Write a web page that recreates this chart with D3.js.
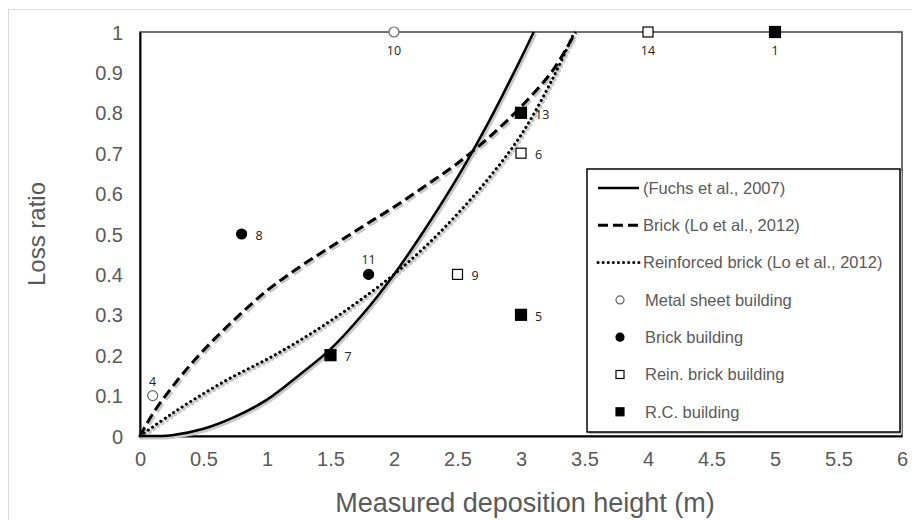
<!DOCTYPE html>
<html>
<head>
<meta charset="utf-8">
<script src="https://cdn.jsdelivr.net/npm/d3@7"></script>
<style>
    html, body { margin: 0; padding: 0; background: #fff; }
    svg { display: block; font-family: "Liberation Sans", Arial, sans-serif; }
</style>
</head>
<body>
<div id="chart"></div>
<script>
// curve data
const fuchsX = [0, 0.25, 0.5, 0.75, 1.0, 1.25, 1.5, 1.75, 2.0, 2.25, 2.5, 2.75, 3.0, 3.1];
const fuchsY = [0, 0.002, 0.018, 0.048, 0.09, 0.15, 0.215, 0.30, 0.40, 0.515, 0.64, 0.78, 0.935, 1.0];

const brickX = [0, 0.1, 0.3, 0.5, 0.75, 1.0, 1.25, 1.5, 1.75, 2.0, 2.25, 2.5, 2.75, 3.0, 3.25, 3.43];
const brickY = [0, 0.055, 0.14, 0.212, 0.29, 0.36, 0.417, 0.468, 0.518, 0.567, 0.62, 0.675, 0.74, 0.815, 0.905, 1.0];

const reinX = [0, 0.25, 0.5, 0.75, 1.0, 1.25, 1.5, 1.75, 2.0, 2.25, 2.5, 2.75, 3.0, 3.25, 3.42];
const reinY = [0, 0.055, 0.105, 0.15, 0.19, 0.235, 0.285, 0.34, 0.40, 0.47, 0.55, 0.64, 0.745, 0.885, 1.0];

// observed buildings: [id, depth, loss]
const metalSheet = [[4, 0.1, 0.1], [10, 2.0, 1.0]];
const brickBldg = [[8, 0.8, 0.5], [11, 1.8, 0.4]];
const reinBldg = [[9, 2.5, 0.4], [6, 3.0, 0.7], [14, 4.0, 1.0]];
const rcBldg = [[7, 1.5, 0.2], [5, 3.0, 0.3], [13, 3.0, 0.8], [1, 5.0, 1.0]];

const xTicks = [0, 0.5, 1, 1.5, 2, 2.5, 3, 3.5, 4, 4.5, 5, 5.5, 6];
const yTicks = [0, 0.1, 0.2, 0.3, 0.4, 0.5, 0.6, 0.7, 0.8, 0.9, 1];

const legendLabels = [
    '(Fuchs et al., 2007)',
    'Brick (Lo et al., 2012)',
    'Reinforced brick (Lo et al., 2012)',
    'Metal sheet building',
    'Brick building',
    'Rein. brick building',
    'R.C. building'
];

// where the little id label sits relative to its marker
const labelSide = { 4: 'above', 10: 'below', 14: 'below', 1: 'below', 11: 'above' };

const width = 912, height = 520;
const margin = { top: 32, right: 10, bottom: 84, left: 140 };
const w = 902 - margin.left;
const h = 436 - margin.top;

const svg = d3.select('#chart').append('svg')
    .attr('width', width)
    .attr('height', height);

svg.append('rect')
    .attr('x', 8.5).attr('y', 9.5)
    .attr('width', 920).attr('height', 530)
    .attr('fill', 'none')
    .attr('stroke', '#d9d9d9');

const g = svg.append('g').attr('transform', `translate(${margin.left},${margin.top})`);

const x = d3.scaleLinear().domain([0, 6]).range([0, w]);
const y = d3.scaleLinear().domain([0, 1]).range([h, 0]);

g.append('rect')
    .attr('width', w).attr('height', h)
    .attr('fill', 'none')
    .attr('stroke', '#404040')
    .attr('stroke-width', 1.5);

const xAxis = g.append('g')
    .attr('transform', `translate(0,${h})`)
    .call(d3.axisBottom(x).tickValues(xTicks).tickSize(0).tickPadding(16).tickFormat(d3.format('')));
const yAxis = g.append('g')
    .call(d3.axisLeft(y).tickValues(yTicks).tickSize(0).tickPadding(17).tickFormat(d3.format('')));

[xAxis, yAxis].forEach(ax => {
    ax.select('.domain').attr('stroke', '#000').attr('stroke-width', 2);
    ax.selectAll('text')
        .attr('fill', '#595959')
        .style('font-size', '20px')
        .style('font-family', '"Liberation Sans", Arial, sans-serif');
});
yAxis.selectAll('text').attr('dy', '0.35em');

svg.append('text')
    .attr('x', 525).attr('y', 512)
    .attr('text-anchor', 'middle')
    .attr('fill', '#595959')
    .style('font-size', '27px')
    .text('Measured deposition height (m)');

svg.append('text')
    .attr('transform', `translate(45,${margin.top + h / 2}) rotate(-90)`)
    .attr('text-anchor', 'middle')
    .attr('fill', '#595959')
    .style('font-size', '24px')
    .text('Loss ratio');

// curves
const curveStyles = [
    { xs: fuchsX, ys: fuchsY, width: 2.5, dash: null, cap: 'butt' },
    { xs: brickX, ys: brickY, width: 3, dash: '10,5', cap: 'butt' },
    { xs: reinX, ys: reinY, width: 3, dash: '0.1,5', cap: 'round' }
];

const line = d3.line()
    .x(d => x(d[0]))
    .y(d => y(d[1]))
    .curve(d3.curveCatmullRom.alpha(0.5));

const plot = g.append('g');
curveStyles.forEach(c => {
    const pts = c.xs.map((v, i) => [v, c.ys[i]]);
    plot.append('path')
        .attr('d', line(pts))
        .attr('transform', 'translate(1.5,1.5)')
        .attr('fill', 'none')
        .attr('stroke', '#c8c8c8')
        .attr('stroke-width', c.width + 1.5)
        .attr('stroke-dasharray', c.dash)
        .attr('stroke-linecap', c.cap);
});
curveStyles.forEach(c => {
    const pts = c.xs.map((v, i) => [v, c.ys[i]]);
    plot.append('path')
        .attr('d', line(pts))
        .attr('fill', 'none')
        .attr('stroke', '#000')
        .attr('stroke-width', c.width)
        .attr('stroke-dasharray', c.dash)
        .attr('stroke-linecap', c.cap);
});

// markers
function drawMarker(sel, kind) {
    if (kind === 'circle-open' || kind === 'circle-fill') {
        sel.append('circle')
            .attr('r', 5)
            .attr('fill', kind === 'circle-fill' ? '#000' : '#fff')
            .attr('stroke', kind === 'circle-fill' ? '#000' : '#666')
            .attr('stroke-width', 1.2);
    } else {
        const s = kind === 'square-fill' ? 11 : 10;
        sel.append('rect')
            .attr('x', -s / 2).attr('y', -s / 2)
            .attr('width', s).attr('height', s)
            .attr('fill', kind === 'square-fill' ? '#000' : '#fff')
            .attr('stroke', '#000')
            .attr('stroke-width', 1.2);
    }
}

const pointSets = [
    { data: metalSheet, kind: 'circle-open' },
    { data: brickBldg, kind: 'circle-fill' },
    { data: reinBldg, kind: 'square-open' },
    { data: rcBldg, kind: 'square-fill' }
];

pointSets.forEach(set => {
    set.data.forEach(([id, dx, dy]) => {
        const m = g.append('g').attr('transform', `translate(${x(dx)},${y(dy)})`);
        drawMarker(m, set.kind);
        const side = labelSide[id] || 'right';
        const t = m.append('text')
            .attr('fill', '#222')
            .style('font-family', '"Open Sans", "DejaVu Sans", sans-serif')
            .style('font-size', '12.5px')
            .text(id);
        if (side === 'above') t.attr('text-anchor', 'middle').attr('y', -10);
        else if (side === 'below') t.attr('text-anchor', 'middle').attr('y', 23);
        else t.attr('x', 14).attr('y', 6);
    });
});

// legend
const legend = svg.append('g').attr('transform', 'translate(587,169)');
legend.append('rect')
    .attr('x', 2).attr('y', 2)
    .attr('width', 313).attr('height', 263)
    .attr('fill', '#bfbfbf');
legend.append('rect')
    .attr('width', 313).attr('height', 263)
    .attr('fill', '#fff')
    .attr('stroke', '#000')
    .attr('stroke-width', 1.5);

const rowGap = 37.3;
legendLabels.forEach((label, i) => {
    const row = legend.append('g').attr('transform', `translate(0,${19 + i * rowGap})`);
    if (i < 3) {
        const c = curveStyles[i];
        row.append('line')
            .attr('x1', 11).attr('x2', 52)
            .attr('stroke', '#000')
            .attr('stroke-width', c.width)
            .attr('stroke-dasharray', c.dash)
            .attr('stroke-linecap', c.cap);
    } else {
        const m = row.append('g').attr('transform', 'translate(33,0)');
        drawMarker(m, pointSets[i - 3].kind);
        m.select('circle').attr('r', 4);
        m.select('rect').attr('x', -4).attr('y', -4).attr('width', 8).attr('height', 8);
    }
    row.append('text')
        .attr('x', i < 3 ? 56 : 58)
        .attr('dy', '0.35em')
        .attr('fill', '#595959')
        .style('font-size', '16.5px')
        .text(label);
});
</script>
</body>
</html>
